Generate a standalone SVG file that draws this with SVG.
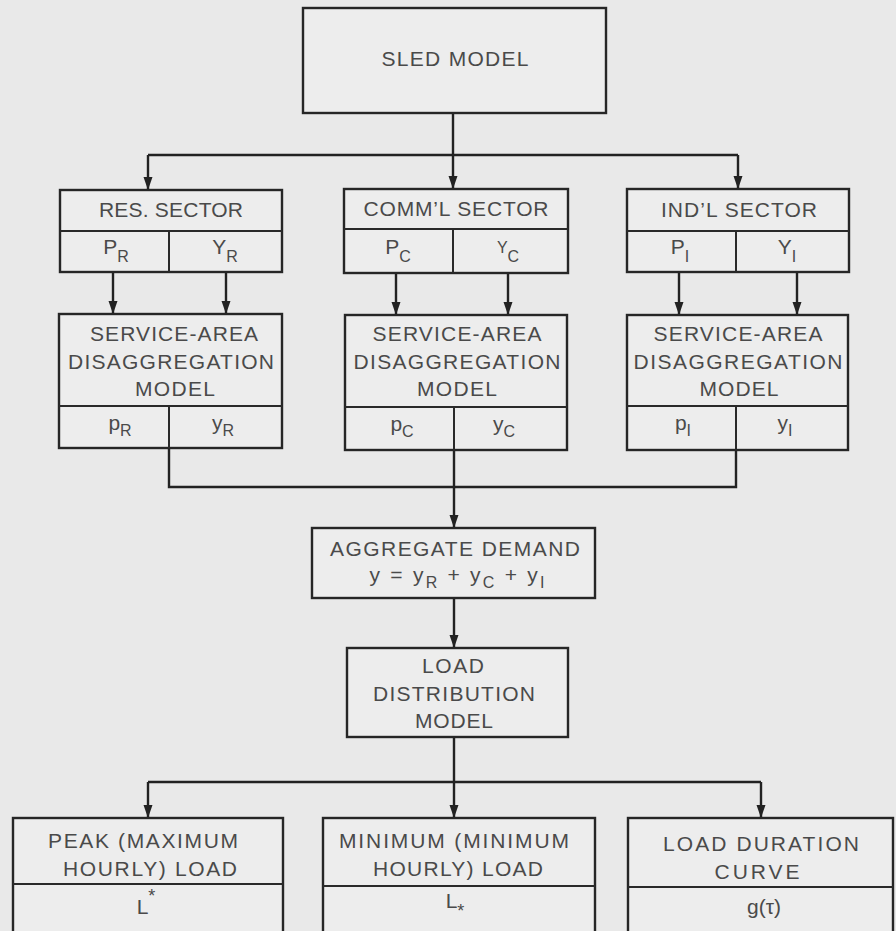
<svg xmlns="http://www.w3.org/2000/svg" width="896" height="931" viewBox="0 0 896 931">
<style>
  .box { fill: #ededed; stroke: #262626; stroke-width: 2.4; }
  .div { stroke: #2a2a2a; stroke-width: 2; fill: none; }
  .t { font-family: "Liberation Sans", Arial, sans-serif; font-size: 21px; fill: #4a4a4a; text-anchor: middle; }
  .sub { font-size: 16px; }
  .conn { stroke: #222222; stroke-width: 2.4; fill: none; }
</style>
<defs>
  <marker id="arr" markerUnits="userSpaceOnUse" markerWidth="14" markerHeight="10" refX="13" refY="5" orient="auto">
    <path d="M0,0.5 L13,5 L0,9.5 z" fill="#222222"/>
  </marker>
</defs>
<rect x="0" y="0" width="896" height="931" fill="#e9e9e9"/>

<g id="connectors">
  <path class="conn" d="M453,113 V155"/>
  <path class="conn" d="M148,155 H738"/>
  <path class="conn" d="M453,155 V189" marker-end="url(#arr)"/>
  <path class="conn" d="M148,155 V190" marker-end="url(#arr)"/>
  <path class="conn" d="M738,155 V189" marker-end="url(#arr)"/>
  <path class="conn" d="M113,272 V314" marker-end="url(#arr)"/>
  <path class="conn" d="M226,272 V314" marker-end="url(#arr)"/>
  <path class="conn" d="M396,273 V315" marker-end="url(#arr)"/>
  <path class="conn" d="M508,273 V315" marker-end="url(#arr)"/>
  <path class="conn" d="M679,272 V315" marker-end="url(#arr)"/>
  <path class="conn" d="M797,272 V315" marker-end="url(#arr)"/>
  <path class="conn" d="M169,448 V487 H736 V450"/>
  <path class="conn" d="M454,450 V528" marker-end="url(#arr)"/>
  <path class="conn" d="M454,598 V648" marker-end="url(#arr)"/>
  <path class="conn" d="M454,737 V818" marker-end="url(#arr)"/>
  <path class="conn" d="M148,782 H761"/>
  <path class="conn" d="M148,782 V818" marker-end="url(#arr)"/>
  <path class="conn" d="M761,782 V818" marker-end="url(#arr)"/>
</g>

<g id="sled">
  <rect class="box" x="303" y="8" width="303" height="105"/>
  <text class="t" x="455" y="66" font-size="22" textLength="147" lengthAdjust="spacing">SLED MODEL</text>
</g>

<g id="res-sector">
  <rect class="box" x="60" y="190" width="222" height="82"/>
  <path class="div" d="M60,231 H282 M169,231 V272"/>
  <text class="t" x="171" y="217" textLength="144" lengthAdjust="spacing">RES. SECTOR</text>
  <text class="t" x="116" y="254">P<tspan class="sub" dy="8">R</tspan></text>
  <text class="t" x="225" y="254">Y<tspan class="sub" dy="8">R</tspan></text>
</g>

<g id="comm-sector">
  <rect class="box" x="344" y="189" width="224" height="84"/>
  <path class="div" d="M344,229 H568 M453,229 V273"/>
  <text class="t" x="456" y="216" textLength="185" lengthAdjust="spacing">COMM’L SECTOR</text>
  <text class="t" x="398" y="254">P<tspan class="sub" dy="8">C</tspan></text>
  <text class="t" x="508" y="253"><tspan font-size="16">Y</tspan><tspan class="sub" dy="9">C</tspan></text>
</g>

<g id="ind-sector">
  <rect class="box" x="627" y="189" width="222" height="83"/>
  <path class="div" d="M627,231 H849 M736,231 V272"/>
  <text class="t" x="739" y="217" textLength="156" lengthAdjust="spacing">IND’L SECTOR</text>
  <text class="t" x="680" y="254">P<tspan class="sub" dy="8">I</tspan></text>
  <text class="t" x="787" y="254">Y<tspan class="sub" dy="8">I</tspan></text>
</g>

<g id="res-disagg">
  <rect class="box" x="59" y="314" width="223" height="134"/>
  <path class="div" d="M59,406 H282 M169,406 V448"/>
  <text class="t" x="174" y="341" textLength="168" lengthAdjust="spacing">SERVICE-AREA</text>
  <text class="t" x="171" y="369" textLength="206" lengthAdjust="spacing">DISAGGREGATION</text>
  <text class="t" x="175" y="396" textLength="80" lengthAdjust="spacing">MODEL</text>
  <text class="t" x="120" y="430">p<tspan class="sub" dy="6">R</tspan></text>
  <text class="t" x="223" y="430">y<tspan class="sub" dy="6">R</tspan></text>
</g>

<g id="comm-disagg">
  <rect class="box" x="345" y="315" width="222" height="135"/>
  <path class="div" d="M345,407 H567 M454,407 V450"/>
  <text class="t" x="457" y="341" textLength="169" lengthAdjust="spacing">SERVICE-AREA</text>
  <text class="t" x="457" y="369" textLength="207" lengthAdjust="spacing">DISAGGREGATION</text>
  <text class="t" x="457" y="396" textLength="80" lengthAdjust="spacing">MODEL</text>
  <text class="t" x="402" y="431">p<tspan class="sub" dy="6">C</tspan></text>
  <text class="t" x="504" y="431">y<tspan class="sub" dy="6">C</tspan></text>
</g>

<g id="ind-disagg">
  <rect class="box" x="627" y="315" width="221" height="135"/>
  <path class="div" d="M627,406 H848 M736,406 V450"/>
  <text class="t" x="738" y="341" textLength="169" lengthAdjust="spacing">SERVICE-AREA</text>
  <text class="t" x="738" y="369" textLength="209" lengthAdjust="spacing">DISAGGREGATION</text>
  <text class="t" x="739" y="396" textLength="79" lengthAdjust="spacing">MODEL</text>
  <text class="t" x="683" y="430">p<tspan class="sub" dy="6">I</tspan></text>
  <text class="t" x="785" y="430">y<tspan class="sub" dy="6">I</tspan></text>
</g>

<g id="aggregate">
  <rect class="box" x="312" y="528" width="283" height="70"/>
  <text class="t" x="455" y="556" textLength="250" lengthAdjust="spacing">AGGREGATE DEMAND</text>
  <text class="t" x="457" y="582" font-size="18" textLength="175" lengthAdjust="spacing">y = y<tspan class="sub" dy="6">R</tspan><tspan dy="-6"> + y</tspan><tspan class="sub" dy="6">C</tspan><tspan dy="-6"> + y</tspan><tspan class="sub" dy="6">I</tspan></text>
</g>

<g id="load-dist">
  <rect class="box" x="347" y="648" width="221" height="89"/>
  <text class="t" x="453" y="673" textLength="62" lengthAdjust="spacing">LOAD</text>
  <text class="t" x="454" y="701" textLength="162" lengthAdjust="spacing">DISTRIBUTION</text>
  <text class="t" x="454" y="728" textLength="78" lengthAdjust="spacing">MODEL</text>
</g>

<g id="peak">
  <rect class="box" x="13" y="818" width="270" height="116"/>
  <path class="div" d="M13,884 H283"/>
  <text class="t" x="143" y="848" textLength="190" lengthAdjust="spacing">PEAK (MAXIMUM</text>
  <text class="t" x="150" y="876" textLength="174" lengthAdjust="spacing">HOURLY) LOAD</text>
  <text class="t" x="146" y="914">L<tspan font-size="18" dy="-12">*</tspan></text>
</g>

<g id="minimum">
  <rect class="box" x="323" y="818" width="272" height="116"/>
  <path class="div" d="M323,886 H595"/>
  <text class="t" x="454" y="848" textLength="230" lengthAdjust="spacing">MINIMUM (MINIMUM</text>
  <text class="t" x="458" y="876" textLength="170" lengthAdjust="spacing">HOURLY) LOAD</text>
  <text class="t" x="455" y="908">L<tspan font-size="18" dy="9">*</tspan></text>
</g>

<g id="ldc">
  <rect class="box" x="628" y="818" width="265" height="116"/>
  <path class="div" d="M628,887 H893"/>
  <text class="t" x="761" y="851" textLength="196" lengthAdjust="spacing">LOAD DURATION</text>
  <text class="t" x="757" y="879" textLength="85" lengthAdjust="spacing">CURVE</text>
  <text class="t" x="764" y="914" font-size="18">g(τ)</text>
</g>
</svg>
